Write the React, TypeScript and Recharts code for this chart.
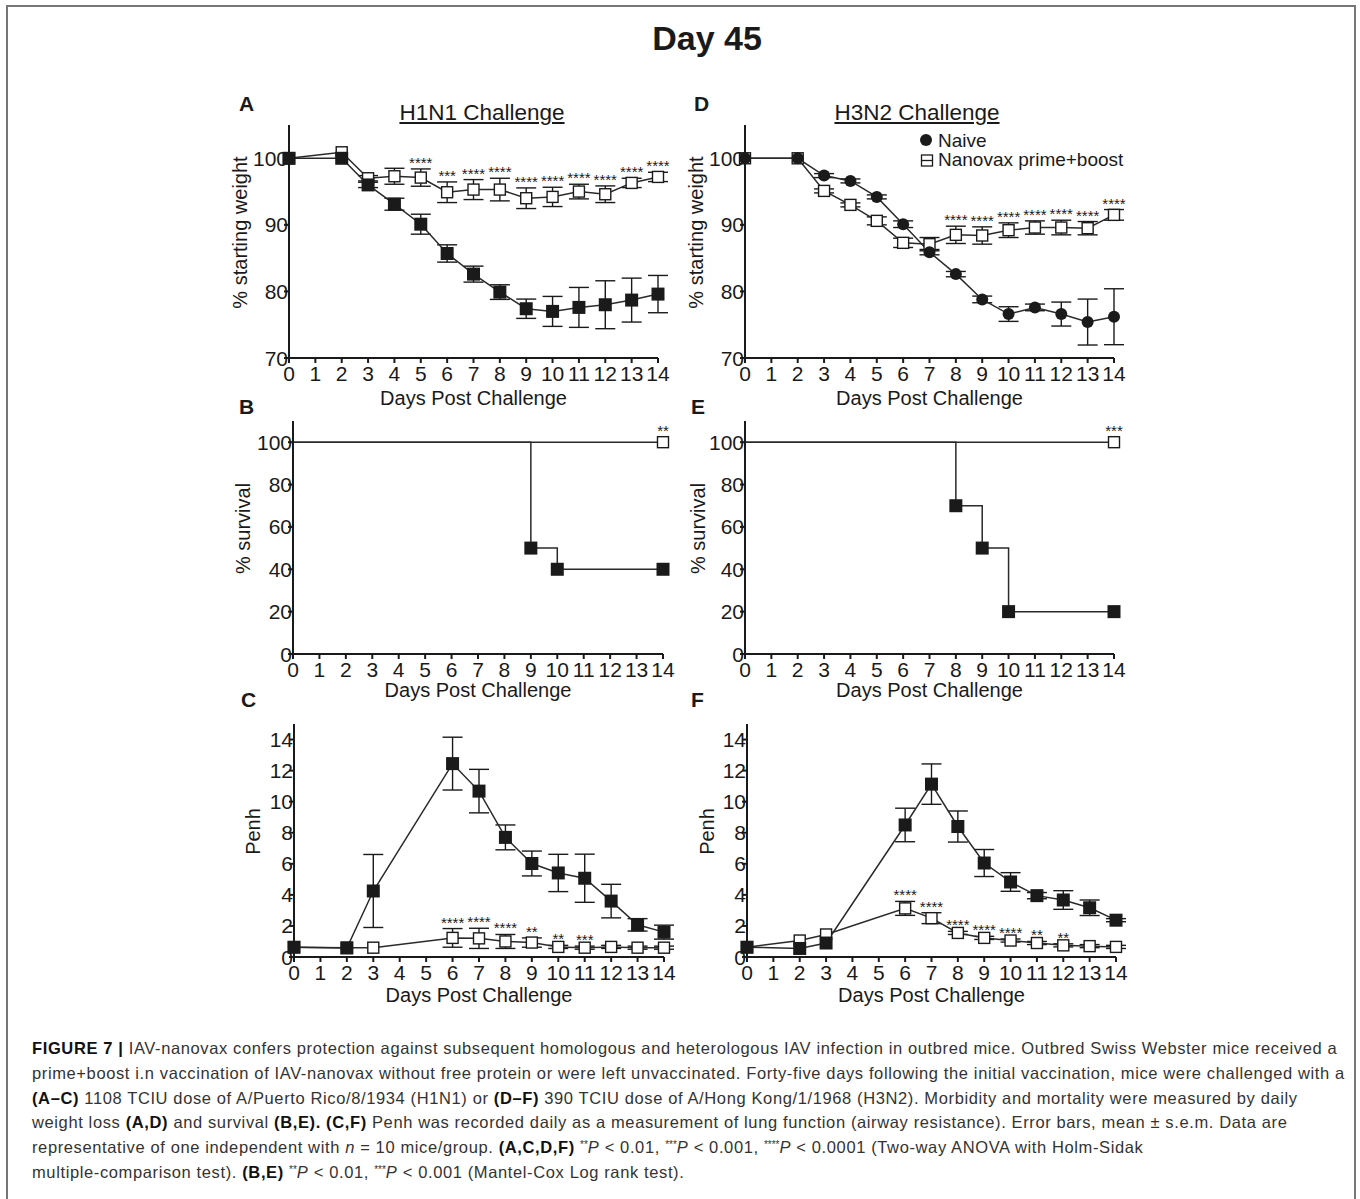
import React from "react";
import { LineChart, Line, XAxis, YAxis, ErrorBar, Label } from "recharts";

const INK = "#1a1a1a";
const FONT = "'Liberation Sans', Arial, Helvetica, sans-serif";

// sampling days
const weightDays = [0, 2, 3, 4, 5, 6, 7, 8, 9, 10, 11, 12, 13, 14];
const penhDays = [0, 2, 3, 6, 7, 8, 9, 10, 11, 12, 13, 14];
const dayTicks = [0, 1, 2, 3, 4, 5, 6, 7, 8, 9, 10, 11, 12, 13, 14];

const weightTicks = [70, 80, 90, 100];
const survivalTicks = [0, 20, 40, 60, 80, 100];
const penhTicks = [0, 2, 4, 6, 8, 10, 12, 14];

// A - H1N1 weight
const h1n1WeightNaive = [100, 100, 96, 93.1, 90.1, 85.7, 82.6, 79.9, 77.4, 77.0, 77.6, 78.0, 78.7, 79.6];
const h1n1WeightNaiveSem = [0, 0, 0.4, 0.9, 1.5, 1.3, 1.2, 1.1, 1.45, 2.25, 3.0, 3.6, 3.3, 2.8];
const h1n1WeightNano = [100, 100.9, 97.0, 97.3, 97.1, 94.9, 95.3, 95.3, 94.0, 94.2, 95.0, 94.6, 96.3, 97.2];
const h1n1WeightNanoSem = [0, 0, 0.4, 1.2, 1.3, 1.55, 1.5, 1.7, 1.55, 1.45, 1.1, 1.25, 0.7, 0.7];
const h1n1WeightStars = ["", "", "", "", "****", "***", "****", "****", "****", "****", "****", "****", "****", "****"];

// D - H3N2 weight
const h3n2WeightNaive = [100, 100, 97.4, 96.6, 94.2, 90.1, 85.9, 82.6, 78.8, 76.6, 77.6, 76.6, 75.4, 76.2];
const h3n2WeightNaiveSem = [0, 0, 0.3, 0.3, 0.3, 0.5, 0.4, 0.4, 0.5, 1.1, 0.5, 1.8, 3.45, 4.2];
const h3n2WeightNano = [100, 100, 95.1, 93.0, 90.6, 87.3, 87.1, 88.5, 88.4, 89.2, 89.6, 89.6, 89.5, 91.5];
const h3n2WeightNanoSem = [0, 0, 0.3, 0.3, 0.6, 0.7, 1.0, 1.3, 1.3, 1.1, 1.0, 1.1, 1.0, 0.8];
const h3n2WeightStars = ["", "", "", "", "", "", "", "****", "****", "****", "****", "****", "****", "****"];

// B / E - survival
const h1n1SurvNaiveDays = [0, 9, 10, 14];
const h1n1SurvNaive = [100, 50, 40, 40];
const h1n1SurvNanoDays = [0, 14];
const h1n1SurvNano = [100, 100];
const h1n1SurvStars = ["", "**"];

const h3n2SurvNaiveDays = [0, 8, 9, 10, 14];
const h3n2SurvNaive = [100, 70, 50, 20, 20];
const h3n2SurvNanoDays = [0, 14];
const h3n2SurvNano = [100, 100];
const h3n2SurvStars = ["", "***"];

// C - H1N1 Penh
const h1n1PenhNaive = [0.63, 0.58, 4.25, 12.45, 10.68, 7.7, 6.02, 5.41, 5.07, 3.6, 2.07, 1.6];
const h1n1PenhNaiveSem = [0, 0, 2.35, 1.7, 1.4, 0.8, 0.8, 1.2, 1.55, 1.08, 0.4, 0.45];
const h1n1PenhNano = [0.63, 0.6, 0.6, 1.23, 1.2, 1.0, 0.93, 0.65, 0.6, 0.65, 0.6, 0.6];
const h1n1PenhNanoSem = [0, 0, 0, 0.6, 0.65, 0.45, 0.3, 0.1, 0.1, 0.1, 0.1, 0.1];
const h1n1PenhStars = ["", "", "", "****", "****", "****", "**", "**", "***", "", "", ""];

// F - H3N2 Penh
const h3n2PenhNaive = [0.63, 0.55, 0.9, 8.5, 11.13, 8.4, 6.05, 4.83, 3.95, 3.67, 3.17, 2.37];
const h3n2PenhNaiveSem = [0, 0, 0, 1.08, 1.3, 1.0, 0.87, 0.6, 0.2, 0.6, 0.5, 0.1];
const h3n2PenhNano = [0.63, 1.06, 1.45, 3.13, 2.5, 1.55, 1.23, 1.06, 0.9, 0.75, 0.7, 0.65];
const h3n2PenhNanoSem = [0, 0, 0, 0.45, 0.35, 0.1, 0.1, 0.1, 0.1, 0.1, 0.1, 0.1];
const h3n2PenhStars = ["", "", "", "****", "****", "****", "****", "****", "**", "**", "", ""];

type Row = { day: number; naive: number; naiveSem: number; nano: number; nanoSem: number; stars: string };

const buildRows = (x: number[], naive: number[], naiveSem: number[], nano: number[], nanoSem: number[], stars: string[]): Row[] =>
  x.map((day, i) => ({ day, naive: naive[i], naiveSem: naiveSem[i], nano: nano[i], nanoSem: nanoSem[i], stars: stars[i] }));

const buildSurv = (x: number[], pct: number[], stars?: string[]) =>
  x.map((day, i) => ({ day, pct: pct[i], stars: stars ? stars[i] : "" }));

// marker shapes
const empty = (p: any) => <g key={`e-${p.index}`} />;

const filledSquare = (p: any) =>
  p.cx == null ? empty(p) : <rect key={`fs-${p.index}`} x={p.cx - 6.5} y={p.cy - 6.5} width={13} height={13} fill={INK} />;

const openSquare = (p: any) =>
  p.cx == null ? empty(p) : (
    <rect key={`os-${p.index}`} x={p.cx - 5.5} y={p.cy - 5.5} width={11} height={11} fill="#fff" stroke={INK} strokeWidth={1.4} />
  );

const filledCircle = (p: any) =>
  p.cx == null ? empty(p) : <circle key={`fc-${p.index}`} cx={p.cx} cy={p.cy} r={6} fill={INK} />;

const starText = (p: any) =>
  p.cx == null || !p.payload?.stars ? empty(p) : (
    <text key={`st-${p.index}`} x={p.cx} y={p.cy - 1} textAnchor="middle" fontSize={15} fill={INK} fontFamily={FONT}>
      {p.payload.stars}
    </text>
  );

const survNanoDot = (p: any) =>
  p.index === 0 || p.cx == null ? empty(p) : (
    <g key={`sn-${p.index}`}>
      <rect x={p.cx - 5.5} y={p.cy - 5.5} width={11} height={11} fill="#fff" stroke={INK} strokeWidth={1.4} />
      <text x={p.cx} y={p.cy - 6} textAnchor="middle" fontSize={15} fill={INK} fontFamily={FONT}>
        {p.payload.stars}
      </text>
    </g>
  );

const survNaiveDot = (p: any) => (p.index === 0 ? empty(p) : filledSquare(p));

const XTick = (p: any) => (
  <text x={p.x} y={p.y + 16} textAnchor="middle" fontSize={21} fill={INK} fontFamily={FONT}>
    {p.payload.value}
  </text>
);

const YTick = (p: any) => (
  <text x={p.x + 4} y={p.y + 7.5} textAnchor="end" fontSize={21} fill={INK} fontFamily={FONT}>
    {p.payload.value}
  </text>
);

const ML = 70;
const MT = 14;
const MR = 40;
const MB = 60;

type PanelProps = {
  left: number;
  top: number;
  width: number;
  height: number;
  domain: [number, number];
  yTicks: number[];
  yTitle: string;
  yTitleGap: number;
  xTitleGap: number;
  data?: any[];
  children: React.ReactNode;
};

function Panel({ left, top, width, height, domain, yTicks, yTitle, yTitleGap, xTitleGap, data, children }: PanelProps) {
  return (
    <div style={{ position: "absolute", left: left - ML, top: top - MT }}>
      <LineChart width={width + ML + MR} height={height + MT + MB} data={data} margin={{ top: MT, right: MR, bottom: 0, left: 0 }}>
        <XAxis
          type="number"
          dataKey="day"
          domain={[0, 14]}
          ticks={dayTicks}
          interval={0}
          height={MB}
          stroke={INK}
          strokeWidth={2}
          tickSize={5}
          tickMargin={2}
          tick={XTick}
        >
          <Label
            content={(p: any) => {
              const vb = p.viewBox;
              return (
                <text x={vb.x + vb.width / 2} y={vb.y + xTitleGap + 7} textAnchor="middle" fontSize={20} fill={INK} fontFamily={FONT}>
                  Days Post Challenge
                </text>
              );
            }}
          />
        </XAxis>
        <YAxis
          type="number"
          domain={domain}
          ticks={yTicks}
          interval={0}
          width={ML}
          stroke={INK}
          strokeWidth={2}
          tickSize={5}
          tickMargin={0}
          tick={YTick}
        >
          <Label
            content={(p: any) => {
              const vb = p.viewBox;
              const cx = vb.x + vb.width - yTitleGap;
              const cy = vb.y + vb.height / 2 - 9;
              return (
                <text
                  x={cx}
                  y={cy}
                  transform={`rotate(-90 ${cx} ${cy})`}
                  textAnchor="middle"
                  dominantBaseline="central"
                  fontSize={20}
                  fill={INK}
                  fontFamily={FONT}
                >
                  {yTitle}
                </text>
              );
            }}
          />
        </YAxis>
        {children}
      </LineChart>
    </div>
  );
}

const lineProps = { stroke: "#2a2a2a", strokeWidth: 1.5, activeDot: false, isAnimationActive: false } as const;
const errProps = { width: 10, stroke: INK, strokeWidth: 1.4, direction: "y" } as const;

function MeasurePanel(props: Omit<PanelProps, "children" | "data"> & { rows: Row[]; naiveDot: (p: any) => React.ReactElement }) {
  const { rows, naiveDot, ...rest } = props;
  return (
    <Panel {...rest} data={rows}>
      <Line dataKey="nano" dot={openSquare} {...lineProps}>
        <ErrorBar dataKey="nanoSem" {...errProps} />
      </Line>
      <Line
        dataKey={(r: Row) => (r.stars ? r.nano + r.nanoSem : null)}
        stroke="none"
        dot={starText}
        activeDot={false}
        isAnimationActive={false}
      />
      <Line dataKey="naive" dot={naiveDot} {...lineProps}>
        <ErrorBar dataKey="naiveSem" {...errProps} />
      </Line>
    </Panel>
  );
}

function SurvivalPanel(props: Omit<PanelProps, "children" | "data"> & { naive: any[]; nano: any[] }) {
  const { naive, nano, ...rest } = props;
  return (
    <Panel {...rest}>
      <Line data={nano} dataKey="pct" type="stepAfter" dot={survNanoDot} {...lineProps} />
      <Line data={naive} dataKey="pct" type="stepAfter" dot={survNaiveDot} {...lineProps} />
    </Panel>
  );
}

const txt = (style: React.CSSProperties): React.CSSProperties => ({ position: "absolute", fontFamily: FONT, color: INK, whiteSpace: "nowrap", ...style });

const letter = (ch: string, x: number, y: number) => (
  <div style={txt({ left: x - 8, top: y - 12, fontSize: 21, fontWeight: 700, lineHeight: "24px" })}>{ch}</div>
);

const B = ({ children }: { children: React.ReactNode }) => <b style={{ color: "#111" }}>{children}</b>;
const S = ({ children }: { children: React.ReactNode }) => (
  <span style={{ fontSize: 10, position: "relative", top: -5, letterSpacing: 0 }}>{children}</span>
);

const captionLines: React.ReactNode[] = [
  <>
    <B>FIGURE 7 |</B> IAV-nanovax confers protection against subsequent homologous and heterologous IAV infection in outbred mice. Outbred Swiss Webster mice received a
  </>,
  <>prime+boost i.n vaccination of IAV-nanovax without free protein or were left unvaccinated. Forty-five days following the initial vaccination, mice were challenged with a</>,
  <>
    <B>(A–C)</B> 1108 TCIU dose of A/Puerto Rico/8/1934 (H1N1) or <B>(D–F)</B> 390 TCIU dose of A/Hong Kong/1/1968 (H3N2). Morbidity and mortality were measured by daily
  </>,
  <>
    weight loss <B>(A,D)</B> and survival <B>(B,E). (C,F)</B> Penh was recorded daily as a measurement of lung function (airway resistance). Error bars, mean ± s.e.m. Data are
  </>,
  <>
    representative of one independent with <i>n</i> = 10 mice/group. <B>(A,C,D,F)</B> <S>**</S>
    <i>P</i> &lt; 0.01, <S>***</S>
    <i>P</i> &lt; 0.001, <S>****</S>
    <i>P</i> &lt; 0.0001 (Two-way ANOVA with Holm-Sidak
  </>,
  <>
    multiple-comparison test). <B>(B,E)</B> <S>**</S>
    <i>P</i> &lt; 0.01, <S>***</S>
    <i>P</i> &lt; 0.001 (Mantel-Cox Log rank test).
  </>,
];

export default function App() {
  const rowsA = buildRows(weightDays, h1n1WeightNaive, h1n1WeightNaiveSem, h1n1WeightNano, h1n1WeightNanoSem, h1n1WeightStars);
  const rowsD = buildRows(weightDays, h3n2WeightNaive, h3n2WeightNaiveSem, h3n2WeightNano, h3n2WeightNanoSem, h3n2WeightStars);
  const rowsC = buildRows(penhDays, h1n1PenhNaive, h1n1PenhNaiveSem, h1n1PenhNano, h1n1PenhNanoSem, h1n1PenhStars);
  const rowsF = buildRows(penhDays, h3n2PenhNaive, h3n2PenhNaiveSem, h3n2PenhNano, h3n2PenhNanoSem, h3n2PenhStars);

  return (
    <div style={{ position: "absolute", left: 0, top: 0, width: 1360, height: 1199, background: "#fff", overflow: "hidden", fontFamily: FONT }}>
      <div style={{ position: "absolute", left: 6, top: 5, width: 1346, height: 1230, border: "2px solid #777" }} />

      <div style={txt({ left: 607, top: 18, width: 200, textAlign: "center", fontSize: 34, fontWeight: 700, lineHeight: "40px" })}>Day 45</div>

      <div style={txt({ left: 382, top: 99, width: 200, textAlign: "center", fontSize: 22.5, lineHeight: "28px", textDecoration: "underline" })}>H1N1 Challenge</div>
      <div style={txt({ left: 817, top: 99, width: 200, textAlign: "center", fontSize: 22.5, lineHeight: "28px", textDecoration: "underline" })}>H3N2 Challenge</div>

      {letter("A", 247, 104)}
      {letter("B", 247, 407)}
      {letter("C", 249, 700)}
      {letter("D", 702, 104)}
      {letter("E", 699, 407)}
      {letter("F", 699, 700)}

      <MeasurePanel
        left={289} top={125} width={369} height={233}
        domain={[70, 105]} yTicks={weightTicks} yTitle="% starting weight" yTitleGap={49} xTitleGap={40}
        rows={rowsA} naiveDot={filledSquare}
      />
      <MeasurePanel
        left={745} top={125} width={369} height={233}
        domain={[70, 105]} yTicks={weightTicks} yTitle="% starting weight" yTitleGap={49} xTitleGap={40}
        rows={rowsD} naiveDot={filledCircle}
      />
      <SurvivalPanel
        left={293} top={421} width={370} height={233}
        domain={[0, 110]} yTicks={survivalTicks} yTitle="% survival" yTitleGap={50} xTitleGap={36}
        naive={buildSurv(h1n1SurvNaiveDays, h1n1SurvNaive)} nano={buildSurv(h1n1SurvNanoDays, h1n1SurvNano, h1n1SurvStars)}
      />
      <SurvivalPanel
        left={745} top={421} width={369} height={233}
        domain={[0, 110]} yTicks={survivalTicks} yTitle="% survival" yTitleGap={47} xTitleGap={36}
        naive={buildSurv(h3n2SurvNaiveDays, h3n2SurvNaive)} nano={buildSurv(h3n2SurvNanoDays, h3n2SurvNano, h3n2SurvStars)}
      />
      <MeasurePanel
        left={294} top={724} width={370} height={233}
        domain={[0, 15]} yTicks={penhTicks} yTitle="Penh" yTitleGap={41} xTitleGap={38}
        rows={rowsC} naiveDot={filledSquare}
      />
      <MeasurePanel
        left={747} top={724} width={369} height={233}
        domain={[0, 15]} yTicks={penhTicks} yTitle="Penh" yTitleGap={40} xTitleGap={38}
        rows={rowsF} naiveDot={filledSquare}
      />

      <svg style={{ position: "absolute", left: 915, top: 128 }} width={230} height={46}>
        <circle cx={11} cy={12} r={6} fill={INK} />
        <text x={23} y={19} fontSize={19} fill={INK} fontFamily={FONT}>Naive</text>
        <rect x={6.5} y={27} width={11} height={11} fill="#fff" stroke={INK} strokeWidth={1.3} />
        <line x1={6.5} x2={17.5} y1={32.5} y2={32.5} stroke={INK} strokeWidth={1.3} />
        <text x={23} y={38} fontSize={19} fill={INK} fontFamily={FONT}>Nanovax prime+boost</text>
      </svg>

      {captionLines.map((line, i) => (
        <div
          key={i}
          style={txt({ left: 32, top: 1036 + i * 24.8, fontSize: 16.5, letterSpacing: 0.62, lineHeight: "24px", color: "#333" })}
        >
          {line}
        </div>
      ))}
    </div>
  );
}
